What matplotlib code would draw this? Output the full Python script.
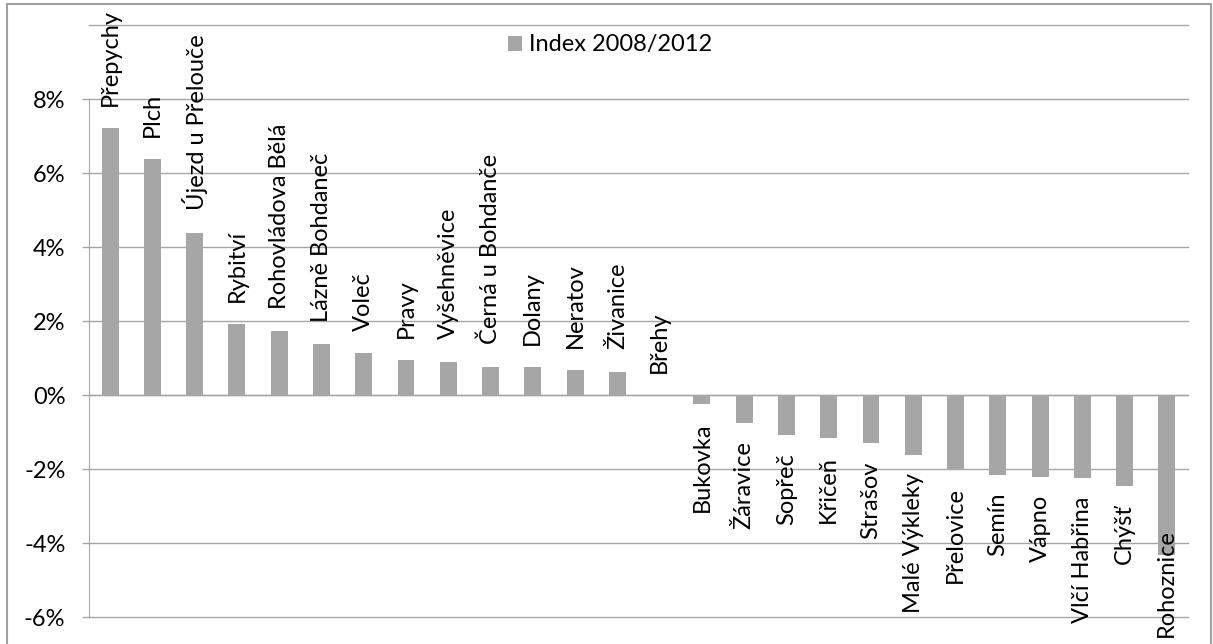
import matplotlib
matplotlib.use("Agg")
import matplotlib.pyplot as plt
from matplotlib.patches import Rectangle
from matplotlib.ticker import FuncFormatter, MultipleLocator
from matplotlib.transforms import blended_transform_factory
import numpy as np

plt.rcParams["font.family"] = ["Lato", "DejaVu Sans"]

# data: Index 2008/2012 per municipality
obce = ["Přepychy", "Plch", "Újezd u Přelouče", "Rybitví", "Rohovládova Bělá",
        "Lázně Bohdaneč", "Voleč", "Pravy", "Vyšehněvice", "Černá u Bohdanče",
        "Dolany", "Neratov", "Živanice", "Břehy", "Bukovka", "Žáravice",
        "Sopřeč", "Křičeň", "Strašov", "Malé Výkleky", "Přelovice", "Semín",
        "Vápno", "Vlčí Habřina", "Chýšť", "Rohoznice"]
index_2008_2012 = [7.22, 6.38, 4.39, 1.92, 1.73, 1.37, 1.14, 0.95, 0.90, 0.77,
                   0.75, 0.68, 0.63, 0.0, -0.25, -0.77, -1.09, -1.16, -1.31,
                   -1.62, -2.01, -2.16, -2.22, -2.25, -2.46, -4.32]
legend_label = "Index 2008/2012"

W, H = 1213, 644
BAR = "#a6a6a6"
GRID = "#a6a6a6"
FS = 17

fig = plt.figure(figsize=(W / 100, H / 100), dpi=100)
# outer chart border
fig.patches.append(Rectangle((7 / W, -0.1), (1211 - 7) / W, 1.1 - 4 / H,
                             transform=fig.transFigure, fill=False,
                             edgecolor="#a0a0a0", linewidth=1.5))

ax = fig.add_axes([89 / W, 1 - 617 / H, (1188 - 89) / W, (617 - 99) / H])
vals = np.array(index_2008_2012) / 100
x = np.arange(len(obce))
ax.bar(x, vals, width=0.4, color=BAR, zorder=2, label=legend_label)

ax.set_xlim(-0.5, len(obce) - 0.5)
ax.set_ylim(-0.06, 0.08)
ax.yaxis.set_major_locator(MultipleLocator(0.02))
ax.yaxis.set_major_formatter(FuncFormatter(lambda v, _: f"{v * 100:.0f}%"))
ax.set_xticks([])
for s in ("top", "right", "bottom"):
    ax.spines[s].set_visible(False)
ax.spines["left"].set_color(GRID)
ax.tick_params(axis="y", length=5, width=1, color=GRID, pad=12, labelsize=FS)
for t in ax.get_yticks():
    ax.plot([-0.5, len(obce) - 0.5], [t, t], color=GRID, lw=1, zorder=1,
            clip_on=False)
ax.plot([-0.5, len(obce) - 0.5], [0, 0], color=GRID, lw=1, zorder=3)

# data labels (rotated, outside end)
ybottom = blended_transform_factory(ax.transData, fig.transFigure)
for xi, v, name in zip(x, vals, obce):
    if v >= 0:
        ax.annotate(name, (xi, v), xytext=(0, 16), textcoords="offset points",
                    rotation=90, ha="center", va="bottom", fontsize=FS,
                    annotation_clip=False)
    elif v < -0.04:
        # label would leave the chart area, keep it inside
        ax.text(xi, 7 / H, name, transform=ybottom, rotation=90,
                ha="center", va="bottom", fontsize=FS, zorder=4)
    else:
        ax.annotate(name, (xi, v), xytext=(0, -13), textcoords="offset points",
                    rotation=90, ha="center", va="top", fontsize=FS,
                    annotation_clip=False)

fig.legend(loc="center left", bbox_to_anchor=(508 / W, 1 - 45 / H),
           frameon=False, fontsize=FS, handlelength=0.6, handleheight=0.6,
           handletextpad=0.3, borderaxespad=0, borderpad=0)

fig.savefig("out.png", dpi=100)
